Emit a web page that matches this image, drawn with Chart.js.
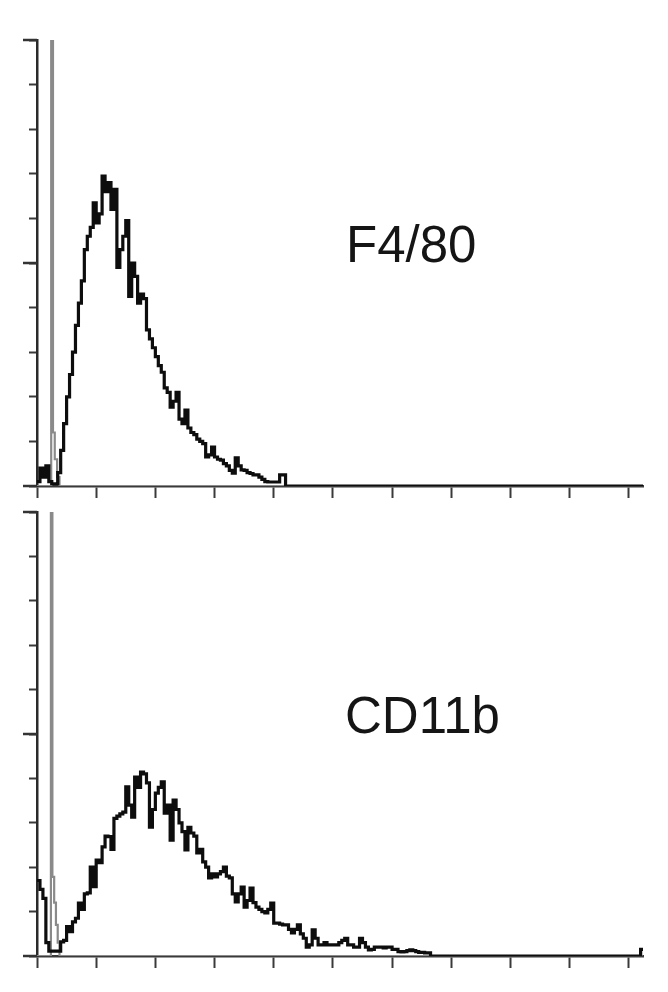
<!DOCTYPE html>
<html><head><meta charset="utf-8">
<script src="https://cdn.jsdelivr.net/npm/chart.js@4.4.0/dist/chart.umd.min.js"></script>
<style>
html,body{margin:0;padding:0;background:#fff;}
#wrap{position:relative;width:668px;height:992px;overflow:hidden;background:#fff;}
canvas{position:absolute;left:0;}
#c1{top:0}
#c2{top:500px}
.lbl{position:absolute;font-family:"Liberation Sans",Arial,sans-serif;font-size:51px;line-height:51px;color:#151515;white-space:nowrap;}
</style></head><body>
<div id="wrap">
<canvas id="c1" width="668" height="500"></canvas>
<canvas id="c2" width="668" height="470"></canvas>
<div class="lbl" style="left:346px;top:219px">F4/80</div>
<div class="lbl" style="left:345px;top:690px">CD11b</div>
</div>
<script>
// ---- data ----
const CHANNEL_WIDTH = 5;           // histogram channel width (x units)
const X_MAX = 1024;
const X_TICK_STEP = 100;
const Y_MAX = 100;
const Y_TICK_STEP = 10;
const Y_MAJOR_TICKS = [0, 50, 100];
const panelLabels = ['F4/80', 'CD11b'];

// F4/80 stained (black), counts per channel starting at channel 0
const f480Counts = [1, 4, 2, 4.5, 1, 0.5, 0.5, 3, 8, 14, 20, 25, 30, 36, 41, 46, 53, 56, 58, 63.5,
  59, 61, 69.5, 66, 68, 62, 66.5, 49, 53, 56, 59.5, 42.5, 50, 47, 41, 43, 42, 35, 33, 31,
  29, 27, 25.5, 22, 21, 17.7, 19, 21, 15, 14, 17, 13, 12, 11.5, 10.5, 10, 9.5, 6.5, 7, 8.7,
  6.5, 6, 5.8, 5, 4.5, 3.5, 2.9, 6.3, 4.5, 3.6, 3.5, 3, 2.8, 2.5, 2.5, 2, 1.5, 1, 0.9, 0.9,
  0.9, 0.9, 2.5, 2.5, 0];
const f480TailX = [1024];
const f480TailY = [0];

// CD11b stained (black)
const cd11bCounts = [17, 15, 13, 3, 1.1, 1.1, 1.1, 1.1, 3.2, 3.5, 6.6, 5.5, 7.7, 8.5, 11.9, 10.5, 14, 14.2, 20, 15.6,
  21.6, 21, 24.6, 27, 26.9, 24, 31, 31.5, 32, 32.4, 38.1, 34, 31.3, 40.3, 38, 41.4, 41, 39, 29, 33,
  36.7, 38, 39.2, 32.2, 34, 26.1, 35.1, 33, 30, 28, 23.9, 29, 27.7, 27, 23.2, 24, 21.2, 20, 17.6, 18.5,
  17.8, 18.5, 19, 20, 18, 17.6, 14, 12.2, 14, 15.5, 11, 12.5, 15.3, 12, 11, 10.5, 10, 9.7, 10.5, 11.9,
  7.4, 7.4, 7.2, 7, 7, 6, 5.2, 6, 7, 5, 4, 2, 2.5, 5.9, 4, 2.5, 2.5, 3, 2.5, 2.5,
  2.5, 2.5, 3, 3.5, 4, 2.5, 2.5, 2, 2, 4, 3, 2, 1.4, 1.5, 2, 2, 2, 1.8, 2, 2,
  1.5, 1.5, 1, 0.9, 1, 1.2, 1.4, 1.2, 1, 0.8, 0.8, 0.7, 0.7, 0];
const cd11bTailX = [1020, 1024];
const cd11bTailY = [1.5, 1.5];

// isotype controls (gray), explicit channel positions
const ctrlTopX = [0, 24, 27, 30, 34, 38, 1024];
const ctrlTopY = [0, 300, 12, 6, 2, 0, 0];
const ctrlBotX = [0, 23.5, 26, 29, 32, 35, 38, 1024];
const ctrlBotY = [0, 300, 17.8, 12, 7, 3, 0, 0];

// ---- build ----
function fromCounts(counts, tailX, tailY) {
  const pts = counts.map((v, i) => ({x: i * CHANNEL_WIDTH, y: v}));
  tailX.forEach((x, i) => pts.push({x: x, y: tailY[i]}));
  return pts;
}
function fromXY(xs, ys) { return xs.map((x, i) => ({x: x, y: ys[i]})); }

const majorTickPlugin = {
  id: 'majorY',
  afterDraw(chart) {
    const ys = chart.scales.y, ctx = chart.ctx, left = chart.chartArea.left;
    ctx.save();
    ctx.strokeStyle = '#333';
    ctx.lineWidth = 2.5;
    Y_MAJOR_TICKS.forEach(v => {
      const py = ys.getPixelForValue(v);
      ctx.beginPath(); ctx.moveTo(left - 14, py); ctx.lineTo(left, py); ctx.stroke();
    });
    ctx.restore();
  }
};

function makeChart(id, padTop, stained, control) {
  return new Chart(document.getElementById(id), {
    type: 'line',
    data: {
      datasets: [
        {data: stained, borderColor: '#0d0d0d', borderWidth: 3.2, stepped: 'before', fill: false, pointRadius: 0},
        {data: control, borderColor: '#8a8a8a', borderWidth: 2.2, stepped: 'before', fill: false, pointRadius: 0}
      ]
    },
    options: {
      responsive: false, animation: false, devicePixelRatio: 1,
      layout: {padding: {left: 21, top: padTop, right: 25, bottom: 0}},
      plugins: {legend: {display: false}, tooltip: {enabled: false}, title: {display: false}},
      elements: {point: {radius: 0}, line: {tension: 0}},
      scales: {
        x: {
          type: 'linear', min: 0, max: X_MAX,
          ticks: {display: false, stepSize: X_TICK_STEP, includeBounds: false},
          grid: {drawOnChartArea: false, drawTicks: true, tickLength: 12, tickWidth: 2, tickColor: '#3a3a3a'},
          border: {display: true, color: '#3a3a3a', width: 2.5},
          afterFit(s) { s.height = 14; }
        },
        y: {
          type: 'linear', min: 0, max: Y_MAX,
          ticks: {display: false, stepSize: Y_TICK_STEP, includeBounds: false},
          grid: {drawOnChartArea: false, drawTicks: true, tickLength: 8, tickWidth: 2, tickColor: '#3a3a3a'},
          border: {display: true, color: '#2a2a2a', width: 2.5},
          afterFit(s) { s.width = 16; }
        }
      }
    },
    plugins: [majorTickPlugin]
  });
}

makeChart('c1', 40, fromCounts(f480Counts, f480TailX, f480TailY), fromXY(ctrlTopX, ctrlTopY));
makeChart('c2', 12, fromCounts(cd11bCounts, cd11bTailX, cd11bTailY), fromXY(ctrlBotX, ctrlBotY));
</script>
</body></html>
